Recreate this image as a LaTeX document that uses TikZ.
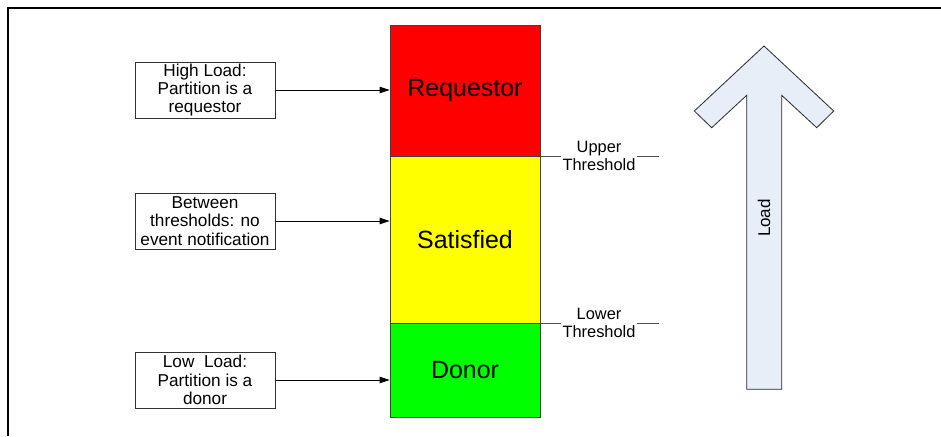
\documentclass[tikz,border=0pt]{standalone}
\usepackage{fontspec}
\setmainfont{Liberation Sans}
\usetikzlibrary{arrows.meta}

\begin{document}
\begin{tikzpicture}[x=0.75pt,y=0.75pt,yscale=-1,xscale=1,
  box/.style={draw={rgb, 255:red, 50; green, 50; blue, 50 },line width=0.6pt,align=center,
    minimum width=105pt,minimum height=42pt,inner sep=0pt,
    font=\fontsize{12.9}{13.7}\selectfont},
  seg/.style={draw={rgb, 255:red, 64; green, 64; blue, 64 },line width=0.6pt,
    minimum width=112.5pt,inner sep=0pt,font=\fontsize{18.7}{20}\selectfont},
  thr/.style={align=center,inner sep=0pt,inner xsep=1pt,
    font=\fontsize{12.3}{13.9}\selectfont},
  arr/.style={-{Triangle[length=7.5pt,width=4.8pt]},line width=0.6pt},
  thrline/.style={draw={rgb, 255:red, 80; green, 80; blue, 80 },line width=0.6pt}]
\useasboundingbox (0,0) rectangle (941,436);

%Frame
\draw [line width=1pt] (8,436) -- (8,8) -- (941,8) ;

%Shape: Column segments
\node (reqSeg) [seg,minimum height=98.25pt,fill={rgb, 255:red, 255; green, 0; blue, 0 }] at (465,90.5) {Requestor};
\node (satSeg) [seg,minimum height=125.25pt,fill={rgb, 255:red, 255; green, 255; blue, 0 }] at (465,239.5) {Satisfied};
\node (donSeg) [seg,minimum height=70.5pt,fill={rgb, 255:red, 0; green, 255; blue, 0 }] at (465,370) {Donor};

% Text Node
\node (hiBox) [box] at (205,90) {High Load:\\Partition is a\\requestor};
% Text Node
\node (satBox) [box] at (205,221) {Between\\thresholds: no\\event notification};
% Text Node
\node (loBox) [box] at (205,380) {Low\ \ Load:\\Partition is a\\donor};

%Straight Lines
\draw [arr] (hiBox.east) -- (hiBox.east -| reqSeg.west) ;
\draw [arr] (satBox.east) -- (satBox.east -| satSeg.west) ;
\draw [arr] (loBox.east) -- (loBox.east -| donSeg.west) ;

% Thresholds
\node (upTh) [thr] at (599,156) {Upper\\Threshold};
\coordinate (upEnd) at (659,156);
\draw [thrline] (upTh.west -| reqSeg.east) -- (upTh.west) ;
\draw [thrline] (upTh.east) -- (upEnd) ;
\node (loTh) [thr] at (599,323) {Lower\\Threshold};
\coordinate (loEnd) at (659,323);
\draw [thrline] (loTh.west -| satSeg.east) -- (loTh.west) ;
\draw [thrline] (loTh.east) -- (loEnd) ;

%Shape: Up Arrow
\draw [draw={rgb, 255:red, 40; green, 40; blue, 40 },line width=0.6pt,fill={rgb, 255:red, 231; green, 238; blue, 248 }]
  (764,46) -- (833.7,111) -- (816.7,127.7) -- (781.7,95.3) -- (781.7,389.3)
  -- (746.7,389.3) -- (746.7,95.3) -- (711.7,127.7) -- (694.3,111) -- cycle ;
% Text Node
\node (loadLbl) [rotate=90,inner sep=0pt,font=\fontsize{12.75}{14}\selectfont] at (764,218) {Load};

\end{tikzpicture}
\end{document}
